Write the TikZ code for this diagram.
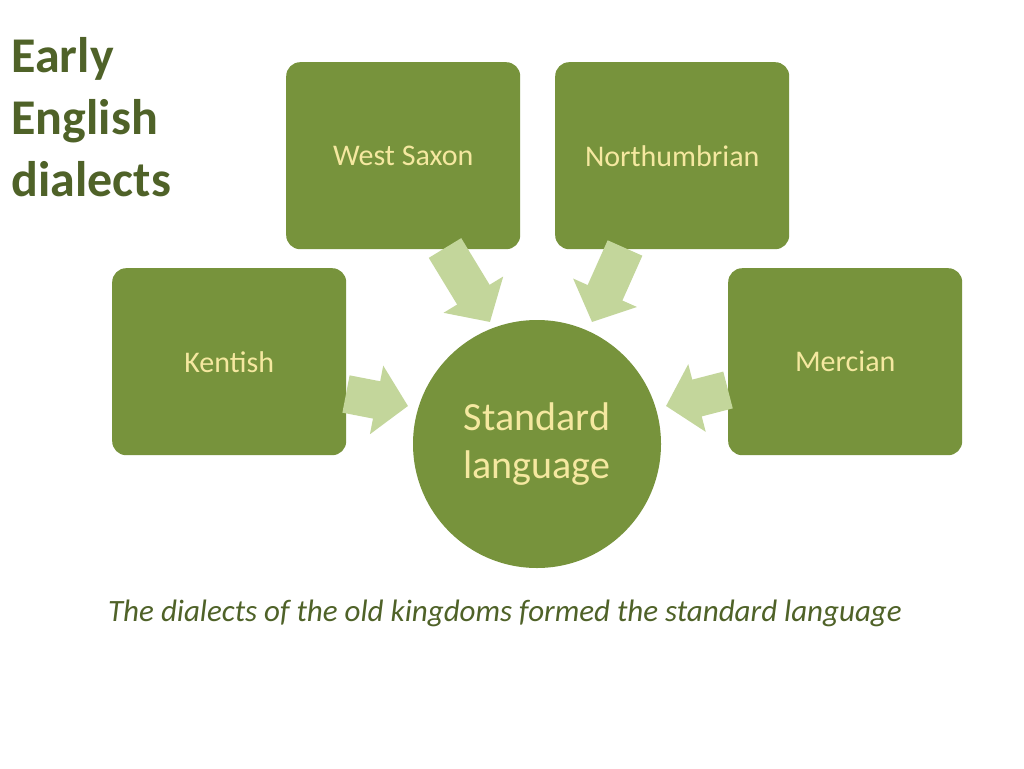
\documentclass[tikz,border=0pt]{standalone}
\usepackage{fontspec}
\setmainfont{Carlito}
\usetikzlibrary{arrows.meta}
\definecolor{boxg}{HTML}{77933C}
\definecolor{txty}{HTML}{F5E8A0}
\definecolor{arrg}{HTML}{C3D69B}
\definecolor{dark}{HTML}{4F6228}
\begin{document}
\begin{tikzpicture}[x=1pt,y=-1pt,
  dbox/.style={draw=none,fill=boxg,rounded corners=14pt,minimum width=234pt,minimum height=187pt,text=txty,font=\fontsize{30}{36}\selectfont,anchor=north west},
  barrow/.style={draw=arrg,line width=38pt,-{Triangle[width=68pt,length=32pt]}}]
\useasboundingbox (0,0) rectangle (1024,768);
\fill[white] (0,0) rectangle (1024,768);
\node[dbox] (ws) at (286,62) {West Saxon};
\node[dbox] (nb) at (555,62) {Northumbrian};
\node[dbox] (ke) at (112,268) {Kentish};
\node[dbox] (me) at (728,268) {Mercian};
\node[circle,fill=boxg,minimum size=248pt,inner sep=0,text=txty,align=center,font=\fontsize{40}{48}\selectfont] (sl) at (537,444) {Standard\\language};
\coordinate (a1) at (445,248); \coordinate (b1) at (490,322);
\coordinate (a2) at (625,248); \coordinate (b2) at (592,322);
\coordinate (a3) at (346,394); \coordinate (b3) at (408,406);
\coordinate (a4) at (728,390); \coordinate (b4) at (666,406);
\draw[barrow] (a1) -- (b1);
\draw[barrow] (a2) -- (b2);
\draw[barrow] (a3) -- (b3);
\draw[barrow] (a4) -- (b4);
\node[anchor=north west,align=left,text=dark,font=\bfseries\fontsize{50}{62}\selectfont] (title) at (8,34) {Early\\English\\dialects};
\node[text=dark,font=\itshape\fontsize{31}{37}\selectfont] (cap) at (505,613) {The dialects of the old kingdoms formed the standard language};
\end{tikzpicture}
\end{document}
